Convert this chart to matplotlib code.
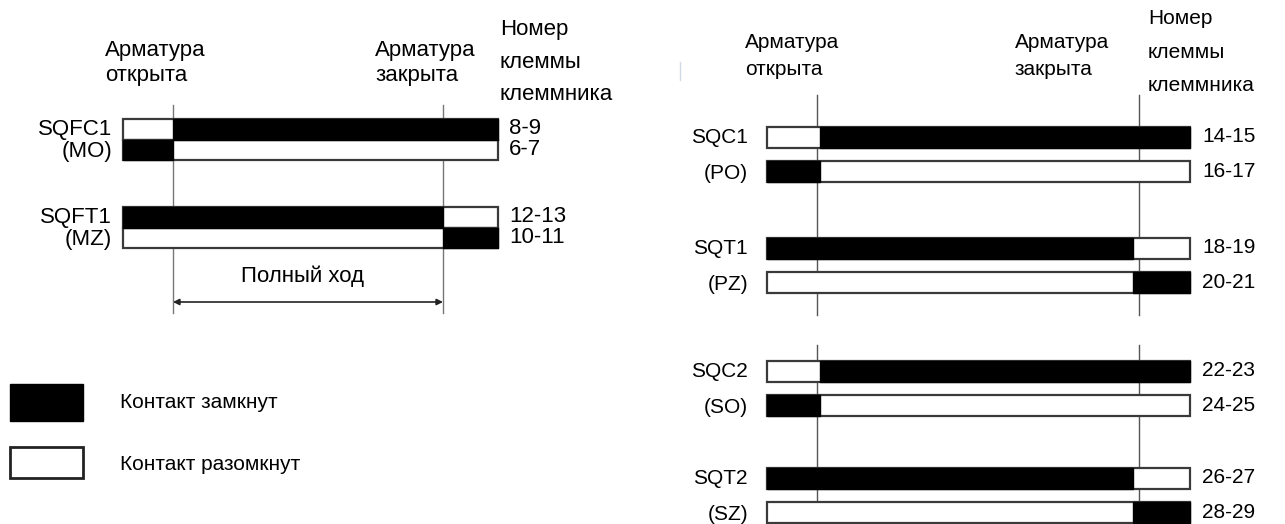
import matplotlib
matplotlib.use("Agg")
import matplotlib.pyplot as plt
from matplotlib.patches import Rectangle

plt.rcParams['font.family'] = ['Liberation Sans', 'DejaVu Sans']

# left block (motor limit switches)
left_switches = ["SQFC1", "SQFT1"]
left_aliases = ["(MO)", "(MZ)"]
left_terminals = [["8-9", "6-7"], ["12-13", "10-11"]]
left_switch_at = [0.0, 1.0]             # stroke position (0 = open, 1 = closed)
left_top_closed_after = [True, False]   # upper contact closed after switch point

# right block (position / signal switches)
right_switches = ["SQC1", "SQT1", "SQC2", "SQT2"]
right_aliases = ["(PO)", "(PZ)", "(SO)", "(SZ)"]
right_terminals = [["14-15", "16-17"], ["18-19", "20-21"],
                   ["22-23", "24-25"], ["26-27", "28-29"]]
right_switch_at = [0.01, 0.98, 0.01, 0.98]
right_top_closed_after = [True, False, True, False]

pos_open = "Арматура\nоткрыта"
pos_closed = "Арматура\nзакрыта"
terminal_header = "Номер\nклеммы\nклеммника"
stroke_label = "Полный ход"
legend_labels = ["Контакт замкнут", "Контакт разомкнут"]

W, H = 1285, 524
FS = 15
fig = plt.figure(figsize=(W / 100, H / 100), dpi=100)


def panel(px_open, px_closed):
    ax = fig.add_axes([0, 0, 1, 1])
    ax.set_axis_off()
    ax.patch.set_alpha(0)
    k = px_closed - px_open
    ax.set_xlim(-px_open / k, (W - px_open) / k)
    ax.set_ylim(H, 0)
    return ax, (lambda px: (px - px_open) / k)


def contact(ax, y, h, lo, hi, at, closed_after, edge):
    ax.add_patch(Rectangle((lo, y), hi - lo, h, facecolor="white",
                           edgecolor=edge, lw=1.6, zorder=3))
    if closed_after:
        a, b = at, hi
    else:
        a, b = lo, at
    ax.add_patch(Rectangle((a, y), b - a, h, facecolor="black",
                           edgecolor="black", lw=1.0, zorder=4))


def block(ax, u, tops, offs, h, lo, hi, names, aliases, terms, at, after,
          lab_px, term_px, fs):
    for i, top in enumerate(tops):
        y1, y2 = top, top + offs
        contact(ax, y1, h, lo, hi, at[i], after[i], "#3a3a3a")
        contact(ax, y2, h, lo, hi, at[i], not after[i], "#3a3a3a")
        ax.text(u(lab_px), y1 + h / 2, names[i], ha="right", va="center", fontsize=fs)
        ax.text(u(lab_px), y2 + h / 2 + 2, aliases[i], ha="right", va="center", fontsize=fs)
        ax.text(u(term_px), y1 + h / 2 - 1, terms[i][0], ha="left", va="center", fontsize=fs)
        ax.text(u(term_px), y2 + h / 2, terms[i][1], ha="left", va="center", fontsize=fs)


# ---- left panel
axl, ul = panel(173, 443)
lo_l, hi_l = ul(123), ul(498)
for x in [0, 1]:
    axl.plot([x, x], [105, 313], color="#777777", lw=1.0, zorder=2)
block(axl, ul, [119, 207], 20.5, 20.5, lo_l, hi_l, left_switches, left_aliases,
      left_terminals, left_switch_at, left_top_closed_after, 112, 509, FS + 1)
axl.annotate("", xy=(1, 302), xytext=(0, 302),
             arrowprops=dict(arrowstyle="<|-|>", color="#222222", lw=1.2,
                             shrinkA=0, shrinkB=0, mutation_scale=9))
axl.text(0.48, 276, stroke_label, ha="center", va="center", fontsize=FS + 1)
axl.text(ul(105), 63, pos_open, ha="left", va="center", fontsize=FS + 1, linespacing=1.3)
axl.text(ul(375), 63, pos_closed, ha="left", va="center", fontsize=FS + 1, linespacing=1.3)
axl.text(ul(500), 62, terminal_header, ha="left", va="center", fontsize=FS + 1,
         linespacing=1.75)

# legend
axl.add_patch(Rectangle((ul(10), 384), ul(83) - ul(10), 37, facecolor="black",
                        edgecolor="black", lw=1.0))
axl.add_patch(Rectangle((ul(10), 447), ul(83) - ul(10), 31, facecolor="white",
                        edgecolor="#222222", lw=2.0))
axl.text(ul(120), 403, legend_labels[0], ha="left", va="center", fontsize=FS)
axl.text(ul(120), 465, legend_labels[1], ha="left", va="center", fontsize=FS)

# ---- right panel
axr, ur = panel(817, 1139)
lo_r, hi_r = ur(767), ur(1190)
for x in [0, 1]:
    axr.plot([x, x], [95, 315], color="#555555", lw=1.0, zorder=2)
    axr.plot([x, x], [345, H], color="#555555", lw=1.0, zorder=2)
block(axr, ur, [127, 238, 361, 468], 34, 21, lo_r, hi_r, right_switches,
      right_aliases, right_terminals, right_switch_at, right_top_closed_after,
      748, 1202, FS)
axr.text(ur(745), 56, pos_open, ha="left", va="center", fontsize=FS, linespacing=1.55)
axr.text(ur(1015), 56, pos_closed, ha="left", va="center", fontsize=FS, linespacing=1.55)
axr.text(ur(1148), 52, terminal_header, ha="left", va="center", fontsize=FS,
         linespacing=1.95)
axr.plot([ur(680), ur(680)], [62, 80], color="#d0dae4", lw=1.0)

fig.savefig("out.png", dpi=100, facecolor="white")
